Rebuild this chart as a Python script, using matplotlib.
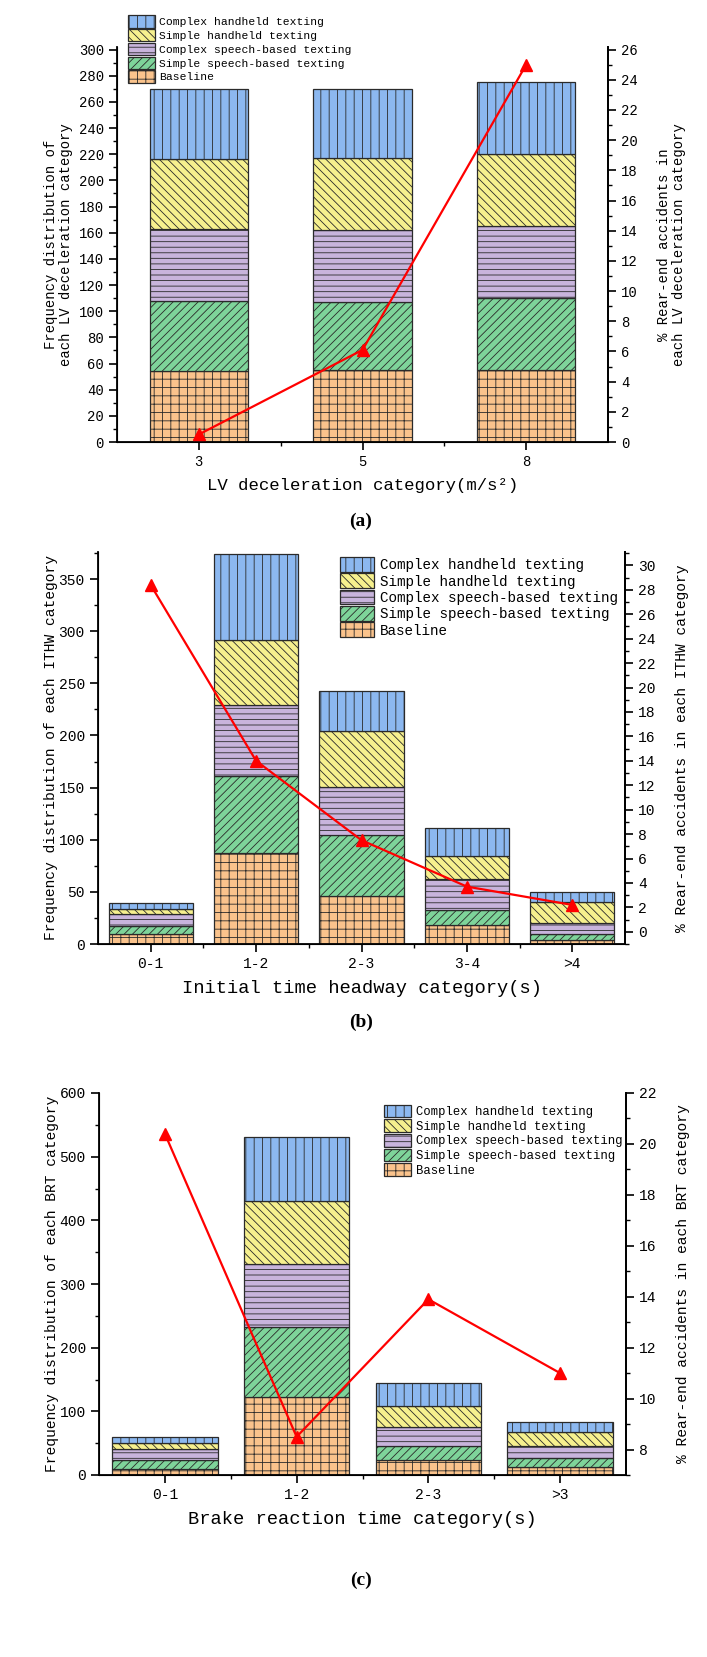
import numpy as np
import matplotlib.pyplot as plt
from matplotlib.ticker import MultipleLocator
from matplotlib.patches import Patch

plt.rcParams['font.family'] = ['Liberation Mono', 'DejaVu Sans Mono']
plt.rcParams['hatch.linewidth'] = 0.6

# stacking order, bottom to top
series = ['Baseline', 'Simple speech-based texting', 'Complex speech-based texting',
          'Simple handheld texting', 'Complex handheld texting']
colors = ['#FAC38C', '#7ED49A', '#C8B4DC', '#F6F08E', '#8CB8F0']
hatches = ['++', '////', '---', '\\\\\\\\', '||']

# (a) LV deceleration
cat_a = ['3', '5', '8']
seg_a = [[54, 55, 55],      # baseline
         [54, 52, 55],      # simple speech
         [55, 55, 55],      # complex speech
         [53, 55, 55],      # simple handheld
         [54, 53, 55]]      # complex handheld
pct_a = [0.5, 6.1, 25.0]

# (b) initial time headway
cat_b = ['0-1', '1-2', '2-3', '3-4', '>4']
seg_b = [[9.5, 87, 46, 18, 4],
         [7.5, 74, 59, 15, 6],
         [12, 68, 46, 29, 10],
         [5, 63, 53, 22, 20],
         [5, 82, 39, 27, 10]]
pct_b = [28.4, 14.0, 7.5, 3.7, 2.2]

# (c) brake reaction time
cat_c = ['0-1', '1-2', '2-3', '>3']
seg_c = [[10, 122, 23, 13],
         [13, 111, 22, 14],
         [18, 99, 30, 18],
         [10, 99, 33, 22],
         [9, 100, 37, 17]]
pct_c = [20.4, 8.5, 13.9, 11.0]

W, H = 707, 1657
fig = plt.figure(figsize=(W / 100, H / 100), dpi=100)


def box(l, r, top, bot):
    return [l / W, 1 - bot / H, (r - l) / W, (bot - top) / H]


def panel(rect, cats, segs, pct, width, ylim, ymaj, ymin, rlim, rmaj,
          xlabel, ylabel, rlabel, tsize, lsize, lpad, rpad):
    ax = fig.add_axes(rect)
    x = np.arange(len(cats))
    bottom = np.zeros(len(cats))
    for s, c, h in zip(segs, colors, hatches):
        ax.bar(x, s, width, bottom=bottom, color=c, hatch=h,
               edgecolor='#2a2a2a', linewidth=0.9)
        bottom += np.array(s)
    ax.set_xlim(-0.5, len(cats) - 0.5)
    ax.set_ylim(*ylim)
    ax.set_xticks(x)
    ax.set_xticklabels(cats)
    ax.set_xticks(x[:-1] + 0.5, minor=True)
    ax.yaxis.set_major_locator(MultipleLocator(ymaj))
    ax.yaxis.set_minor_locator(MultipleLocator(ymin))
    ax.tick_params(which='major', direction='out', length=6, width=1.2,
                   labelsize=tsize)
    ax.tick_params(which='minor', direction='out', length=3, width=1.0)
    ax.spines['top'].set_visible(False)
    for sp in ['left', 'bottom', 'right']:
        ax.spines[sp].set_linewidth(1.3)
    ax.set_xlabel(xlabel, fontsize=lsize, labelpad=6)
    ax.set_ylabel(ylabel, fontsize=tsize, linespacing=1.1, labelpad=lpad)

    ax2 = ax.twinx()
    ax2.plot(x, pct, color='#FF0000', marker='^', ms=9, lw=1.6)
    ax2.set_ylim(*rlim)
    ax2.yaxis.set_major_locator(MultipleLocator(rmaj))
    ax2.yaxis.set_minor_locator(MultipleLocator(1))
    ax2.tick_params(which='major', direction='out', length=6, width=1.2,
                    labelsize=tsize)
    ax2.tick_params(which='minor', direction='out', length=3, width=1.0)
    ax2.spines['top'].set_visible(False)
    ax2.spines['right'].set_linewidth(1.3)
    ax2.set_ylabel(rlabel, fontsize=tsize, linespacing=1.1, labelpad=rpad)
    if rlim[0] < 0:
        ax2.set_yticks(np.arange(0, rlim[1], rmaj))
    return ax


handles = [Patch(facecolor=c, hatch=h, edgecolor='#2a2a2a', linewidth=0.9, label=s)
           for s, c, h in zip(series, colors, hatches)][::-1]

# (a)
ax_a = panel(box(117, 608, 47, 442), cat_a, seg_a, pct_a, 0.6, (0, 302), 20, 10,
             (0, 26 * 302 / 300), 2,
             'LV deceleration category(m/s²)',
             'Frequency distribution of\neach LV deceleration category',
             '% Rear-end accidents in\neach LV deceleration category', 10, 12.5,
             4, 14)
ax_a.legend(handles=handles, loc='upper left', bbox_to_anchor=(0.01, 1.095),
            frameon=False, fontsize=8.2, handlelength=2.4, handleheight=1.3,
            labelspacing=0.12, handletextpad=0.4, borderpad=0)

# (b)
ax_b = panel(box(98, 625, 552, 944), cat_b, seg_b, pct_b, 0.8, (0, 376), 50, 25,
             (-1, 31.1), 2,
             'Initial time headway category(s)',
             'Frequency distribution of each ITHW category',
             '% Rear-end accidents in each ITHW category', 10.5, 13.5,
             0.5, 14)
ax_b.legend(handles=handles, loc='upper left', bbox_to_anchor=(0.445, 1.005),
            frameon=False, fontsize=10.3, handlelength=2.4, handleheight=1.2,
            labelspacing=0.08, handletextpad=0.4, borderpad=0)

# (c)
ax_c = panel(box(99, 626, 1093, 1475), cat_c, seg_c, pct_c, 0.8, (0, 600), 100, 50,
             (7, 22), 2,
             'Brake reaction time category(s)',
             'Frequency distribution of each BRT category',
             '% Rear-end accidents in each BRT category', 10.5, 13.5,
             0.5, 14)
ax_c.legend(handles=handles, loc='upper left', bbox_to_anchor=(0.53, 0.985),
            frameon=False, fontsize=8.8, handlelength=2.2, handleheight=1.2,
            labelspacing=0.1, handletextpad=0.4, borderpad=0)

for lab, yy in [('(a)', 521), ('(b)', 1022), ('(c)', 1580)]:
    fig.text(0.51, 1 - yy / H, lab, ha='center', va='center', fontsize=14,
             fontfamily='Liberation Serif', fontweight='bold')

fig.savefig('out.png', dpi=100)
